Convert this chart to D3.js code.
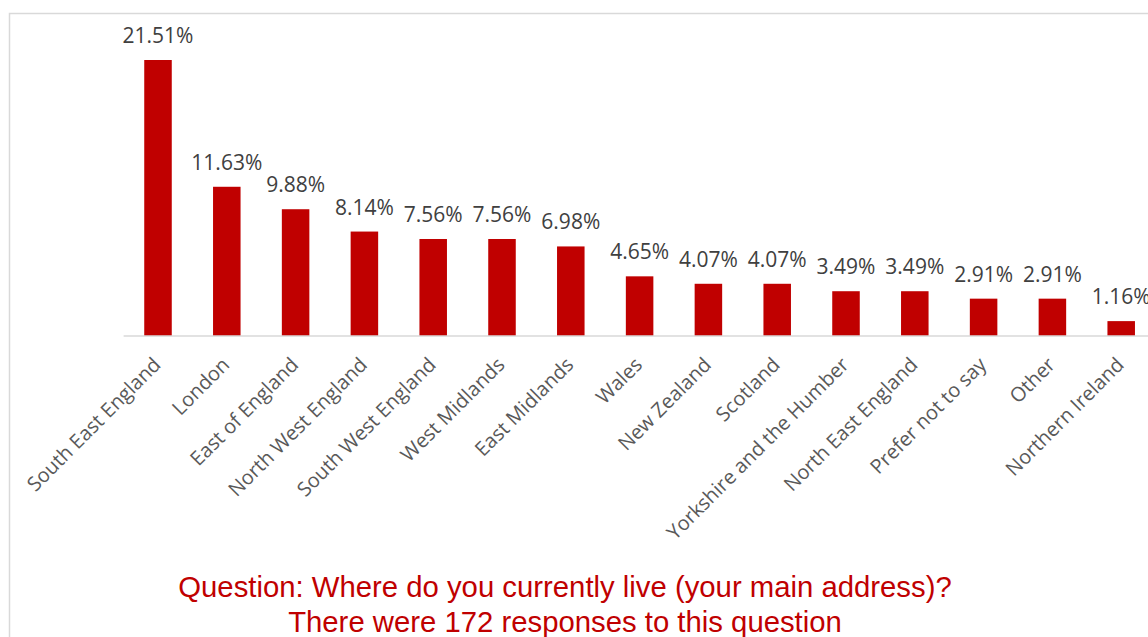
<!DOCTYPE html>
<html><head><meta charset="utf-8">
<script src="https://cdn.jsdelivr.net/npm/d3@7"></script>
<style>body{margin:0;background:#fff;overflow:hidden}svg{display:block}</style>
</head><body>
<svg id="c" width="1148" height="637"></svg>
<script>
const categories = ["South East England","London","East of England","North West England","South West England","West Midlands","East Midlands","Wales","New Zealand","Scotland","Yorkshire and the Humber","North East England","Prefer not to say","Other","Northern Ireland"];
const values = [21.51,11.63,9.88,8.14,7.56,7.56,6.98,4.65,4.07,4.07,3.49,3.49,2.91,2.91,1.16];
const titleLines = ["Question: Where do you currently live (your main address)?","There were 172 responses to this question"];

const svg = d3.select("#c");
svg.append("path").attr("d","M9.5,637 V13.5 H1148").attr("fill","none").attr("stroke","#d9d9d9").attr("stroke-width",1.5);

const x = d3.scaleBand().domain(categories).range([123.6,1155.6]).paddingInner(0.6).paddingOuter(0.3);
const y = d3.scaleLinear().domain([0,21.51]).range([336,60]);

svg.selectAll("rect.bar").data(values).join("rect")
  .attr("x",(d,i)=>x(categories[i])).attr("width",x.bandwidth())
  .attr("y",d=>y(d)).attr("height",d=>y(0)-y(d)).attr("fill","#C00000");

const ax = svg.append("g").attr("transform","translate(0,336)").call(d3.axisBottom(x).tickSize(0).tickSizeOuter(0));
ax.select(".domain").attr("stroke","#d9d9d9").attr("stroke-width",1.5).attr("d","M123.6,0H1155.6");
ax.selectAll(".tick text").attr("font-family","'Open Sans'").attr("font-size",20).attr("fill","#595959")
  .attr("text-anchor","end").attr("dx",0).attr("dy",0).attr("y",0)
  .attr("transform","translate(4,30) rotate(-45)");

svg.selectAll("text.val").data(values).join("text").attr("class","val")
  .attr("x",(d,i)=>x(categories[i])+x.bandwidth()/2).attr("y",d=>y(d)-17)
  .attr("text-anchor","middle").attr("font-family","'Open Sans'").attr("font-size",21).attr("fill","#404040")
  .text(d=>d.toFixed(2)+"%");

svg.selectAll("text.title").data(titleLines).join("text").attr("class","title")
  .attr("x",565).attr("y",(d,i)=>597+i*35).attr("text-anchor","middle")
  .attr("font-family","'Liberation Sans', Arial").attr("font-size",29.3).attr("fill","#C00000").text(d=>d);
</script>
</body></html>
